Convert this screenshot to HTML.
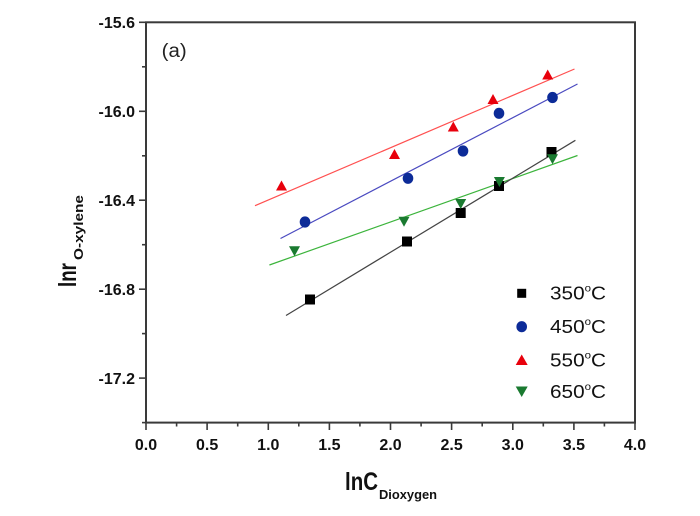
<!DOCTYPE html>
<html><head><meta charset="utf-8"><style>
html,body{margin:0;padding:0;background:#fff;}
svg{display:block;}
text{font-family:"Liberation Sans",Arial,sans-serif;}
</style></head><body>
<svg width="700" height="516" viewBox="0 0 700 516" xmlns="http://www.w3.org/2000/svg">
<rect x="0" y="0" width="700" height="516" fill="#fff"/>
<!-- frame -->
<rect x="146" y="22.3" width="489" height="400.3" fill="none" stroke="#3a3a3a" stroke-width="2"/>
<!-- y ticks -->
<g stroke="#3a3a3a" stroke-width="1.6">
<line x1="139" y1="22.3" x2="146" y2="22.3"/>
<line x1="139" y1="111.3" x2="146" y2="111.3"/>
<line x1="139" y1="200.2" x2="146" y2="200.2"/>
<line x1="139" y1="289.2" x2="146" y2="289.2"/>
<line x1="139" y1="378.1" x2="146" y2="378.1"/>
<line x1="142" y1="66.8" x2="146" y2="66.8"/>
<line x1="142" y1="155.8" x2="146" y2="155.8"/>
<line x1="142" y1="244.7" x2="146" y2="244.7"/>
<line x1="142" y1="333.6" x2="146" y2="333.6"/>
<line x1="142" y1="422.6" x2="146" y2="422.6"/>
</g>
<!-- x ticks -->
<g stroke="#3a3a3a" stroke-width="1.6">
<line x1="146" y1="422.6" x2="146" y2="430"/>
<line x1="207.1" y1="422.6" x2="207.1" y2="430"/>
<line x1="268.3" y1="422.6" x2="268.3" y2="430"/>
<line x1="329.4" y1="422.6" x2="329.4" y2="430"/>
<line x1="390.5" y1="422.6" x2="390.5" y2="430"/>
<line x1="451.6" y1="422.6" x2="451.6" y2="430"/>
<line x1="512.8" y1="422.6" x2="512.8" y2="430"/>
<line x1="573.9" y1="422.6" x2="573.9" y2="430"/>
<line x1="635" y1="422.6" x2="635" y2="430"/>
<line x1="176.6" y1="422.6" x2="176.6" y2="426.5"/>
<line x1="237.7" y1="422.6" x2="237.7" y2="426.5"/>
<line x1="298.8" y1="422.6" x2="298.8" y2="426.5"/>
<line x1="359.9" y1="422.6" x2="359.9" y2="426.5"/>
<line x1="421.1" y1="422.6" x2="421.1" y2="426.5"/>
<line x1="482.2" y1="422.6" x2="482.2" y2="426.5"/>
<line x1="543.3" y1="422.6" x2="543.3" y2="426.5"/>
<line x1="604.4" y1="422.6" x2="604.4" y2="426.5"/>
</g>
<!-- y tick labels -->
<g font-size="16" font-weight="bold" fill="#111" text-anchor="end">
<text x="135" y="28">-15.6</text>
<text x="135" y="117">-16.0</text>
<text x="135" y="205.9">-16.4</text>
<text x="135" y="294.9">-16.8</text>
<text x="135" y="383.8">-17.2</text>
</g>
<!-- x tick labels -->
<g font-size="16" font-weight="bold" fill="#111" text-anchor="middle">
<text x="146" y="450">0.0</text>
<text x="207.1" y="450">0.5</text>
<text x="268.3" y="450">1.0</text>
<text x="329.4" y="450">1.5</text>
<text x="390.5" y="450">2.0</text>
<text x="451.6" y="450">2.5</text>
<text x="512.8" y="450">3.0</text>
<text x="573.9" y="450">3.5</text>
<text x="635" y="450">4.0</text>
</g>
<!-- axis titles -->
<text x="345" y="490" font-size="25" font-weight="bold" fill="#111" textLength="33" lengthAdjust="spacingAndGlyphs">lnC</text>
<text x="379" y="499" font-size="13" font-weight="bold" fill="#111" textLength="58" lengthAdjust="spacingAndGlyphs">Dioxygen</text>
<g transform="translate(76,287) rotate(-90)">
<text x="0" y="0" font-size="25" font-weight="bold" fill="#111" textLength="24" lengthAdjust="spacingAndGlyphs">lnr</text>
<text x="27" y="7" font-size="13" font-weight="bold" fill="#111" textLength="65" lengthAdjust="spacingAndGlyphs">O-xylene</text>
</g>
<!-- (a) -->
<text x="161.7" y="57.2" font-size="19" fill="#222" textLength="25" lengthAdjust="spacingAndGlyphs">(a)</text>
<!-- fit lines -->
<line x1="255" y1="205.7" x2="574.5" y2="69" stroke="#ff5050" stroke-width="1.2"/>
<line x1="280.5" y1="238.5" x2="577.5" y2="84" stroke="#4a4ac0" stroke-width="1.2"/>
<line x1="269.4" y1="265" x2="577.5" y2="155.5" stroke="#3cb43c" stroke-width="1.2"/>
<line x1="286" y1="315.5" x2="575.4" y2="140.3" stroke="#444" stroke-width="1.2"/>
<!-- 350 squares -->
<g fill="#000">
<rect x="305" y="294.5" width="10" height="10"/>
<rect x="402" y="236.5" width="10" height="10"/>
<rect x="455.7" y="208" width="10" height="10"/>
<rect x="494" y="181" width="10" height="10"/>
<rect x="546.5" y="147" width="10" height="10"/>
</g>
<!-- 450 circles -->
<g fill="#0c2b98">
<ellipse cx="305" cy="222" rx="5.3" ry="5.6"/>
<ellipse cx="408" cy="178.3" rx="5.3" ry="5.6"/>
<ellipse cx="463" cy="151" rx="5.3" ry="5.6"/>
<ellipse cx="499" cy="113.3" rx="5.3" ry="5.6"/>
<ellipse cx="552.5" cy="97.5" rx="5.3" ry="5.6"/>
</g>
<!-- 550 up triangles -->
<g fill="#e8000c">
<polygon points="281.5,180.5 276,190.5 287,190.5"/>
<polygon points="394.5,149 389,159 400,159"/>
<polygon points="453.3,121.5 447.8,131.5 458.8,131.5"/>
<polygon points="493,94 487.5,104 498.5,104"/>
<polygon points="547.7,69.5 542.2,79.5 553.2,79.5"/>
</g>
<!-- 650 down triangles -->
<g fill="#1a7a30">
<polygon points="289,246.3 300,246.3 294.5,256.3"/>
<polygon points="398.5,216.7 409.5,216.7 404,226.7"/>
<polygon points="455.2,199 466.2,199 460.7,209"/>
<polygon points="493.9,177 504.9,177 499.4,187"/>
<polygon points="547,154.3 558,154.3 552.5,164.3"/>
</g>
<!-- legend -->
<rect x="517.2" y="288.8" width="9" height="9" fill="#000"/>
<ellipse cx="521.7" cy="326.7" rx="5.3" ry="5.6" fill="#0c2b98"/>
<polygon points="521.7,354.5 515.7,365 527.7,365" fill="#e8000c"/>
<polygon points="515.7,386.5 527.7,386.5 521.7,397" fill="#1a7a30"/>
<g font-size="18" fill="#111">
<text x="550" y="299.6" textLength="56" lengthAdjust="spacingAndGlyphs">350<tspan font-size="10" dy="-8">o</tspan><tspan dy="8">C</tspan></text>
<text x="550" y="333" textLength="56" lengthAdjust="spacingAndGlyphs">450<tspan font-size="10" dy="-8">o</tspan><tspan dy="8">C</tspan></text>
<text x="550" y="366.3" textLength="56" lengthAdjust="spacingAndGlyphs">550<tspan font-size="10" dy="-8">o</tspan><tspan dy="8">C</tspan></text>
<text x="550" y="398" textLength="56" lengthAdjust="spacingAndGlyphs">650<tspan font-size="10" dy="-8">o</tspan><tspan dy="8">C</tspan></text>
</g>
</svg>
</body></html>
